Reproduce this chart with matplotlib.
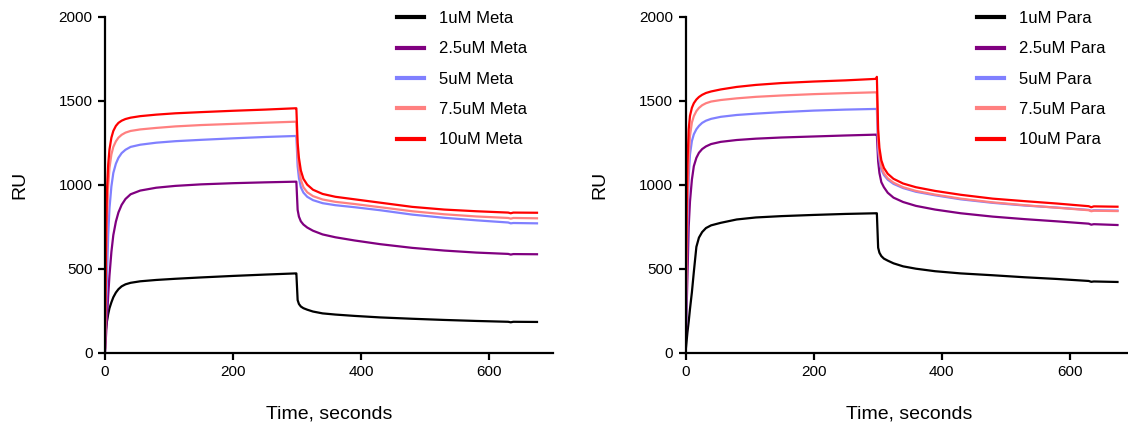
import matplotlib
matplotlib.use('Agg')
import matplotlib.pyplot as plt

plt.rcParams['font.family'] = ['Liberation Sans', 'DejaVu Sans']

# sample times (s) shared by every sensorgram
time = [0, 1, 2, 3, 5, 7, 10, 13, 17, 21, 26, 32, 40, 55, 80, 110, 150, 200, 250, 298,
        299,
        301, 303, 306, 310, 316, 325, 340, 360, 390, 430, 480, 530, 580, 630, 634, 638, 675]

concs = ['1uM', '2.5uM', '5uM', '7.5uM', '10uM']
colors = ['#000000', '#800080', '#8080ff', '#ff8080', '#ff0000']

# meta compound, RU
meta_1 = [60, 120, 160, 185, 230, 265, 300, 330, 358, 378, 395, 407, 416, 425, 433, 440, 448, 457, 465, 472,
          472,
          313, 290, 275, 265, 256, 245, 234, 227, 219, 210, 202, 195, 189, 184, 181, 184, 183]
meta_2p5 = [0, 60, 130, 200, 340, 460, 600, 700, 780, 835, 880, 915, 943, 965, 982, 993, 1002, 1009, 1014, 1018,
            1018,
            850, 810, 782, 763, 745, 726, 704, 687, 668, 646, 624, 608, 596, 588, 584, 587, 586]
meta_5 = [10, 120, 280, 450, 700, 860, 990, 1070, 1125, 1160, 1188, 1208, 1225, 1238, 1250, 1259, 1267, 1276, 1284, 1290,
          1290,
          1110, 1040, 985, 953, 928, 908, 890, 878, 866, 848, 822, 803, 788, 775, 770, 772, 770]
meta_7p5 = [20, 300, 580, 780, 990, 1100, 1180, 1225, 1258, 1280, 1297, 1310, 1320, 1329, 1338, 1347, 1355, 1362, 1369, 1375,
            1375,
            1180, 1095, 1030, 985, 955, 932, 912, 898, 885, 866, 842, 824, 811, 802, 798, 802, 800]
meta_10 = [30, 420, 760, 960, 1120, 1210, 1280, 1320, 1350, 1368, 1381, 1391, 1399, 1408, 1417, 1425, 1432, 1440, 1447, 1455,
           1455,
           1250, 1160, 1085, 1035, 1000, 970, 945, 928, 913, 893, 868, 852, 842, 834, 830, 834, 833]

# para compound, RU
para_1 = [0, 40, 80, 120, 185, 260, 360, 480, 630, 685, 718, 742, 758, 773, 793, 805, 813, 820, 826, 830,
          830,
          625, 595, 575, 560, 548, 532, 514, 500, 485, 472, 461, 449, 439, 427, 422, 424, 421]
para_2p5 = [0, 150, 300, 450, 750, 900, 1030, 1110, 1160, 1190, 1212, 1228, 1242, 1255, 1266, 1274, 1281, 1287, 1293, 1298,
            1298,
            1140, 1070, 1015, 985, 952, 923, 897, 874, 852, 830, 810, 795, 782, 768, 762, 765, 760]
para_5 = [0, 220, 480, 750, 1050, 1180, 1260, 1300, 1330, 1350, 1368, 1381, 1392, 1404, 1415, 1423, 1432, 1441, 1447, 1451,
          1451,
          1210, 1145, 1090, 1058, 1030, 1005, 980, 958, 937, 913, 892, 876, 864, 850, 845, 848, 846]
para_7p5 = [0, 320, 650, 900, 1150, 1290, 1370, 1408, 1438, 1457, 1473, 1485, 1495, 1504, 1514, 1523, 1531, 1539, 1545, 1550,
            1550,
            1260, 1170, 1105, 1068, 1038, 1012, 985, 963, 941, 917, 895, 878, 863, 848, 842, 845, 843]
para_10 = [0, 480, 880, 1120, 1330, 1410, 1458, 1485, 1507, 1522, 1535, 1546, 1555, 1567, 1582, 1594, 1605, 1614, 1621, 1630,
           1642,
           1330, 1220, 1145, 1100, 1065, 1035, 1007, 985, 963, 940, 917, 902, 888, 872, 866, 871, 869]

panels = [
    ('Meta', [meta_1, meta_2p5, meta_5, meta_7p5, meta_10], 105, 397),
    ('Para', [para_1, para_2p5, para_5, para_7p5, para_10], 685.5, 977),
]

W, H = 1128, 430
fig = plt.figure(figsize=(W / 100, H / 100), dpi=100)

for name, series, left_px, leg_px in panels:
    ax = fig.add_axes([left_px / W, (H - 352.7) / H, 448 / W, 336 / H])
    for conc, ru, c in zip(concs, series, colors):
        ax.plot(time, ru, color=c, lw=1.6, label=conc + ' ' + name)
    ax.set_xlim(0, 700)
    ax.set_ylim(0, 2000)
    ax.set_xticks([0, 200, 400, 600])
    ax.set_yticks([0, 500, 1000, 1500, 2000])
    for s in ['top', 'right']:
        ax.spines[s].set_visible(False)
    for s in ['left', 'bottom']:
        ax.spines[s].set_linewidth(1.6)
    ax.tick_params(direction='out', length=5, width=1.6, labelsize=11, pad=4)
    ax.set_xlabel('Time, seconds', fontsize=14, labelpad=19)
    ax.set_ylabel('RU', fontsize=14, labelpad=22)
    ax.legend(loc='upper left', bbox_to_anchor=(leg_px / W, 1 - 11 / H),
              bbox_transform=fig.transFigure, frameon=False, fontsize=12,
              handlelength=1.6, handletextpad=0.9, labelspacing=0.92,
              borderaxespad=0, borderpad=0)
    for h in ax.get_legend().legend_handles:
        h.set_linewidth(3)

fig.savefig('out.png', dpi=100)
